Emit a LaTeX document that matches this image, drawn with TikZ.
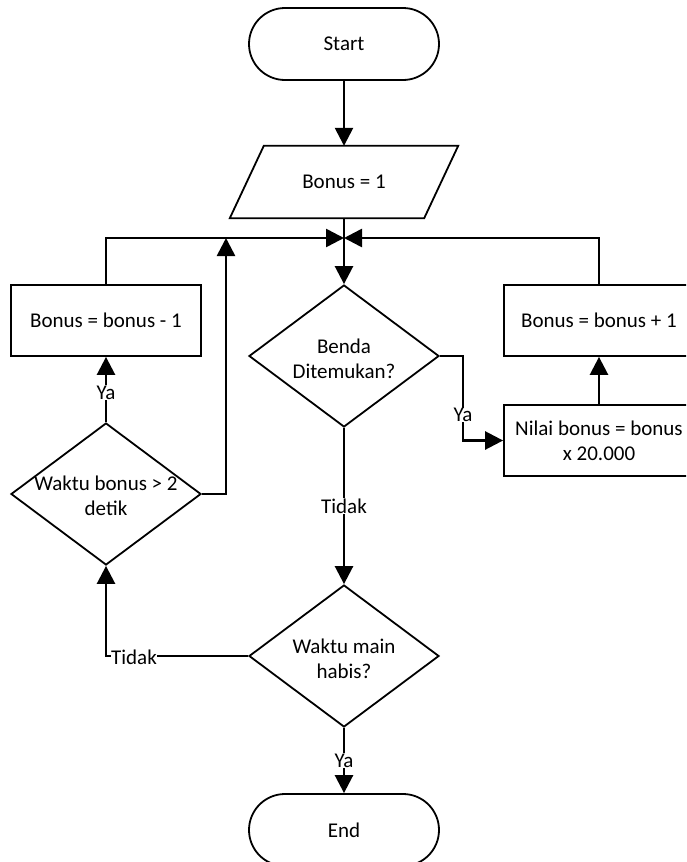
\documentclass[tikz,border=0pt]{standalone}
\usepackage{fontspec}
\setmainfont{Carlito}
\usetikzlibrary{arrows.meta,shapes.geometric}
\tikzset{
  every node/.style={font=\fontsize{21}{25}\selectfont},
  shape line/.style={draw=black, line width=1.8pt},
  terminal/.style={shape line, rectangle, rounded corners=36pt, minimum width=190pt, minimum height=72pt, inner sep=0pt},
  ioframe/.style={rectangle, minimum width=194pt, minimum height=72pt, inner sep=0pt},
  process/.style={shape line, rectangle, minimum width=190pt, minimum height=71pt, inner sep=0pt, align=center},
  decision/.style={shape line, diamond, minimum width=190pt, minimum height=142pt, inner sep=0pt},
  dtext/.style={align=center, inner sep=0pt},
  flow/.style={line width=2.6pt, -{Triangle[length=18pt,width=18pt]}},
  tag/.style={fill=white, inner sep=0.5pt},
}
\begin{document}
\begin{tikzpicture}[x=1pt,y=-1pt]
\useasboundingbox (0,0) rectangle (686,862);
\clip (0,0) rectangle (686,862);

% shapes
\node[terminal] (start) at (344,44) {Start};
\node[ioframe] (init) at (344,182) {Bonus = 1};
\draw[shape line] ([xshift=-17pt]init.south west) -- ([xshift=17pt]init.north west)
  -- ([xshift=17pt]init.north east) -- ([xshift=-17pt]init.south east) -- cycle;
\coordinate (join) at (344,238);
\node[decision] (found) at (344,356) {};
\node[dtext] at (344,359) {Benda\\Ditemukan?};
\node[process] (dec) at (106,320.5) {Bonus = bonus - 1};
\node[decision] (bonustime) at (106,494) {};
\node[dtext] at (106,496) {Waktu bonus > 2\\detik};
\node[process] (inc) at (599,320.5) {Bonus = bonus + 1};
\node[process] (value) at (599,440.5) {Nilai bonus = bonus\\x 20.000};
\node[decision] (timeup) at (344,656) {};
\node[dtext] at (344,659) {Waktu main\\habis?};
\node[terminal] (end) at (344,830) {End};

% connectors
\draw[flow] (start) -- (init);
\draw[flow] (init) -- (found);
\draw[flow] (dec.north) |- (join);
\draw[flow] (inc.north) |- (join);
\coordinate (up) at (226,238);
\draw[flow] (bonustime.east) -| (up);
\draw[flow] (bonustime.north) -- node[tag, pos=0.45] {Ya} (dec.south);
\coordinate (yaturn) at (463,356);
\draw[flow] (found.east) -- (yaturn) |- node[tag, pos=0.35] {Ya} (value.west);
\draw[flow] (value.north) -- (inc.south);
\draw[flow] (found.south) -- node[tag] {Tidak} (timeup.north);
\coordinate (tidakturn) at (106,656);
\draw[flow] (timeup.west) -- (tidakturn) -- (bonustime.south);
\node[tag] (tidaklbl) at (134,657) {Tidak};
\draw[flow] (timeup.south) -- node[tag, pos=0.5] {Ya} (end.north);
\end{tikzpicture}
\end{document}
